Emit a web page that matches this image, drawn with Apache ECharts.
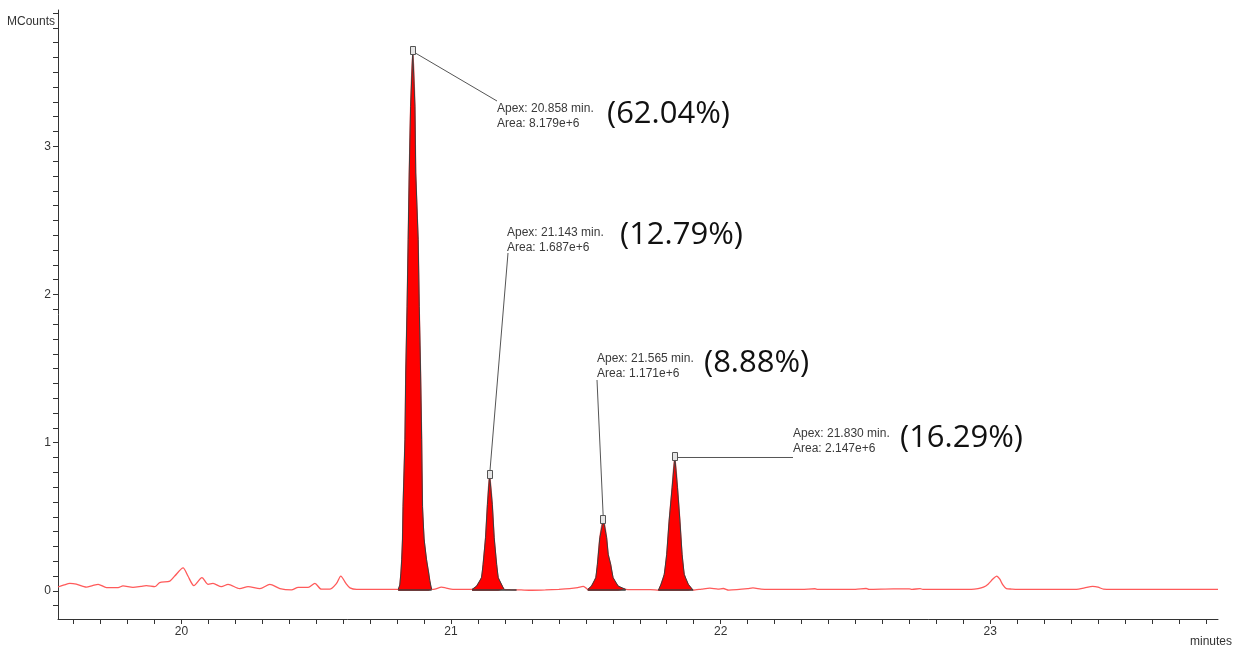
<!DOCTYPE html>
<html>
<head>
<meta charset="utf-8">
<script src="https://cdn.jsdelivr.net/npm/echarts@6/dist/echarts.min.js"></script>
<style>
  html, body { margin: 0; padding: 0; background: #ffffff; }
  #chart { width: 1235px; height: 649px; }
</style>
</head>
<body>
<div id="chart"></div>
<script>
// Chromatogram trace, [time (min), signal (MCounts)], split into baseline stretches and peaks
const traceStart = [
  [19.542, 0.026], [19.565, 0.040], [19.586, 0.050], [19.610, 0.045], [19.647, 0.025],
  [19.670, 0.035], [19.691, 0.044], [19.722, 0.022], [19.765, 0.022], [19.783, 0.033],
  [19.820, 0.024], [19.850, 0.030], [19.870, 0.035], [19.901, 0.028], [19.919, 0.055],
  [19.957, 0.066], [19.975, 0.100], [20.006, 0.155], [20.024, 0.100], [20.046, 0.035],
  [20.076, 0.089], [20.099, 0.044], [20.117, 0.050], [20.148, 0.028], [20.173, 0.044],
  [20.216, 0.015], [20.247, 0.028], [20.291, 0.015], [20.328, 0.044], [20.365, 0.015],
  [20.408, 0.006], [20.433, 0.024], [20.470, 0.024], [20.495, 0.050], [20.519, 0.011],
  [20.550, 0.011], [20.575, 0.050], [20.591, 0.100], [20.610, 0.050], [20.625, 0.020],
  [20.650, 0.010], [20.736, 0.010], [20.800, 0.010]
];
const peakA = [
  [20.804, 0.010], [20.810, 0.040], [20.814, 0.120], [20.817, 0.210], [20.820, 0.350],
  [20.822, 0.570], [20.829, 1.020], [20.832, 1.470], [20.837, 1.920], [20.841, 2.370],
  [20.845, 2.820], [20.850, 3.270], [20.858, 3.640], [20.866, 3.270], [20.869, 2.820],
  [20.878, 2.370], [20.882, 1.920], [20.887, 1.470], [20.891, 1.020], [20.894, 0.570],
  [20.900, 0.350], [20.909, 0.210], [20.917, 0.120], [20.921, 0.070], [20.928, 0.010]
];
const gapAB = [
  [20.940, 0.012], [20.965, 0.025], [20.980, 0.020], [21.000, 0.012], [21.040, 0.010]
];
const peakB = [
  [21.078, 0.010], [21.095, 0.032], [21.113, 0.089], [21.119, 0.179], [21.128, 0.359],
  [21.135, 0.583], [21.143, 0.780], [21.153, 0.583], [21.160, 0.359], [21.169, 0.179],
  [21.175, 0.089], [21.190, 0.032], [21.197, 0.010]
];
const gapBC = [
  [21.220, 0.008], [21.260, 0.006], [21.300, 0.004], [21.350, 0.006], [21.400, 0.010],
  [21.440, 0.015], [21.470, 0.022], [21.490, 0.030], [21.500, 0.020]
];
const peakC = [
  [21.507, 0.010], [21.521, 0.032], [21.537, 0.089], [21.543, 0.179], [21.552, 0.359],
  [21.565, 0.480], [21.577, 0.359], [21.583, 0.246], [21.592, 0.179], [21.601, 0.089],
  [21.620, 0.032], [21.648, 0.010]
];
const gapCD = [
  [21.700, 0.008], [21.740, 0.008]
];
const peakD = [
  [21.769, 0.005], [21.779, 0.044], [21.791, 0.111], [21.800, 0.246], [21.809, 0.471],
  [21.820, 0.696], [21.830, 0.900], [21.840, 0.696], [21.849, 0.471], [21.857, 0.246],
  [21.865, 0.111], [21.880, 0.044], [21.898, 0.005]
];
const traceEnd = [
  [21.930, 0.012], [21.960, 0.018], [21.990, 0.012], [22.010, 0.016], [22.030, 0.005],
  [22.060, 0.008], [22.100, 0.015], [22.120, 0.020], [22.150, 0.012], [22.180, 0.010],
  [22.300, 0.010], [22.350, 0.014], [22.360, 0.010], [22.500, 0.010], [22.540, 0.016],
  [22.550, 0.010], [22.640, 0.013], [22.700, 0.013], [22.710, 0.010], [22.740, 0.015],
  [22.750, 0.010], [22.930, 0.010], [22.955, 0.015], [22.975, 0.025], [22.992, 0.045],
  [23.010, 0.080], [23.024, 0.100], [23.035, 0.080], [23.047, 0.040], [23.060, 0.015],
  [23.080, 0.012], [23.100, 0.010], [23.320, 0.010], [23.350, 0.020], [23.380, 0.030],
  [23.400, 0.025], [23.420, 0.012], [23.500, 0.010], [23.845, 0.010]
];

// Integrated peaks: apex time, reported area, area share
const apexTimes = [20.858, 21.143, 21.565, 21.830];
const peakAreas = ['8.179e+6', '1.687e+6', '1.171e+6', '2.147e+6'];
const areaPercents = ['62.04', '12.79', '8.88', '16.29'];
// integration baseline: [start, end] time and level
const baselineRanges = [[20.804, 20.928], [21.078, 21.243], [21.507, 21.648], [21.769, 21.898]];
const baselineLevel = 0.005;

// Axis ticks and labels
const xLabelValues = [20, 21, 22, 23];
const yLabelValues = [0, 1, 2, 3];
const xTickValues = [];
for (let i = 196; i <= 238; i++) xTickValues.push(i / 10);
const yTickValues = [];
for (let i = -1; i <= 39; i++) yTickValues.push(i / 10);

const peaks = [peakA, peakB, peakC, peakD];
const fullTrace = [].concat(traceStart, peakA, gapAB, peakB, gapBC, peakC, gapCD, peakD, traceEnd);

const axisColor = '#333333';
const labelFont = 'Liberation Sans, Arial, sans-serif';

const series = [{
  type: 'line',
  name: 'trace',
  data: fullTrace,
  showSymbol: false,
  smooth: 0.25,
  z: 2,
  lineStyle: { color: '#ff5a5a', width: 1.3 },
  silent: true
}];

peaks.forEach((pk, i) => {
  series.push({
    type: 'line',
    name: 'peak' + (i + 1),
    data: pk,
    showSymbol: false,
    z: 3,
    lineStyle: { color: '#3c3c3c', width: 1 },
    areaStyle: { color: '#ff0000', opacity: 1, origin: 0 },
    silent: true
  });
  series.push({
    type: 'line',
    name: 'base' + (i + 1),
    data: [[baselineRanges[i][0], baselineLevel], [baselineRanges[i][1], baselineLevel]],
    showSymbol: false,
    z: 4,
    lineStyle: { color: '#3c3c3c', width: 1.5 },
    silent: true
  });
});

const option = {
  backgroundColor: '#ffffff',
  animation: false,
  grid: { left: 58, right: 17, top: 10, bottom: 30, containLabel: false, outerBoundsMode: 'none' },
  xAxis: {
    type: 'value',
    min: 19.542,
    max: 23.845,
    axisLine: { onZero: false, lineStyle: { color: axisColor, width: 1 } },
    axisTick: { show: true, length: 5, customValues: xTickValues, lineStyle: { color: axisColor } },
    axisLabel: { customValues: xLabelValues, margin: 7, color: '#333', fontSize: 12, fontFamily: labelFont },
    splitLine: { show: false }
  },
  yAxis: {
    type: 'value',
    min: -0.19,
    max: 3.92,
    axisLine: { show: true, onZero: false, lineStyle: { color: axisColor, width: 1 } },
    axisTick: { show: true, length: 5, customValues: yTickValues, lineStyle: { color: axisColor } },
    axisLabel: { customValues: yLabelValues, margin: 7, color: '#333', fontSize: 12, fontFamily: labelFont },
    splitLine: { show: false }
  },
  series: series
};

const chart = echarts.init(document.getElementById('chart'), null, { renderer: 'canvas' });
chart.setOption(option);

// Peak annotation placement (pixels): leader end, label block origin, percent origin
const annotLayout = [
  { lead: [497, 101], text: [497, 109], pct: [607, 114] },
  { lead: [508, 253], text: [507, 233], pct: [620, 235] },
  { lead: [597, 380], text: [597, 359], pct: [704, 363] },
  { lead: [793, null], text: [793, 434], pct: [900, 438] }
];

const graphics = [];
apexTimes.forEach((t, i) => {
  const pt = peaks[i].find(p => p[0] === t);
  const px = chart.convertToPixel({ gridIndex: 0 }, [t, pt[1]]);
  const L = annotLayout[i];
  const leadY = L.lead[1] === null ? px[1] : L.lead[1];
  graphics.push({
    type: 'line', z: 20, silent: true,
    shape: { x1: px[0], y1: px[1], x2: L.lead[0], y2: leadY },
    style: { stroke: '#555555', lineWidth: 1 }
  });
  graphics.push({
    type: 'rect', z: 21, silent: true,
    shape: { x: Math.round(px[0]) - 2.5, y: Math.round(px[1]) - 4.5, width: 5, height: 8 },
    style: { fill: '#e6e6e6', stroke: '#555555', lineWidth: 1 }
  });
  graphics.push({
    type: 'text', z: 22, silent: true,
    style: {
      x: L.text[0], y: L.text[1], text: 'Apex: ' + t.toFixed(3) + ' min.',
      fill: '#3a3a3a', font: '12px ' + labelFont, align: 'left', verticalAlign: 'middle'
    }
  });
  graphics.push({
    type: 'text', z: 22, silent: true,
    style: {
      x: L.text[0], y: L.text[1] + 15, text: 'Area: ' + peakAreas[i],
      fill: '#3a3a3a', font: '12px ' + labelFont, align: 'left', verticalAlign: 'middle'
    }
  });
  graphics.push({
    type: 'text', z: 22, silent: true,
    style: {
      x: L.pct[0], y: L.pct[1], text: '(' + areaPercents[i] + '%)',
      fill: '#111111', font: '31px "Open Sans", "Noto Sans", sans-serif', align: 'left', verticalAlign: 'middle'
    }
  });
});

// Axis titles
graphics.push({
  type: 'text', z: 22, silent: true,
  style: { x: 55, y: 22, text: 'MCounts', fill: '#333', font: '12px ' + labelFont, align: 'right', verticalAlign: 'middle' }
});
graphics.push({
  type: 'text', z: 22, silent: true,
  style: { x: 1232, y: 642, text: 'minutes', fill: '#333', font: '12px ' + labelFont, align: 'right', verticalAlign: 'middle' }
});

chart.setOption({ graphic: { elements: graphics } });
</script>
</body>
</html>
